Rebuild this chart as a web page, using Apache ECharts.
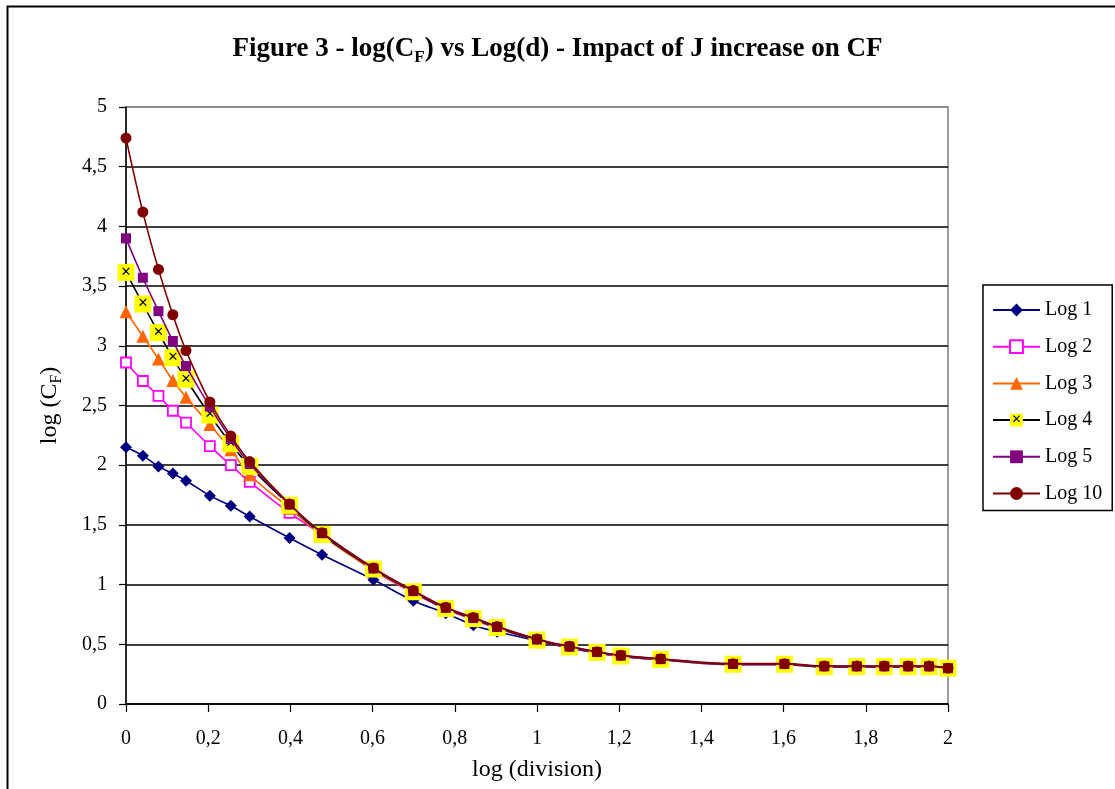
<!DOCTYPE html>
<html>
<head>
<meta charset="utf-8">
<script src="https://cdn.jsdelivr.net/npm/echarts@6/dist/echarts.min.js"></script>
<style>html,body{margin:0;padding:0;background:#fff;}#c{width:1115px;height:789px;}</style>
</head>
<body>
<div id="c"></div>
<script>
// log(division) values
var xVals = [0, 0.041, 0.079, 0.114, 0.146, 0.204, 0.255, 0.301, 0.398, 0.477, 0.602, 0.699, 0.778, 0.845, 0.903, 1, 1.079, 1.146, 1.204, 1.301, 1.477, 1.602, 1.699, 1.778, 1.845, 1.903, 1.954, 2];
var log1 = [2.15, 2.08, 1.99, 1.93, 1.87, 1.745, 1.66, 1.57, 1.39, 1.25, 1.04, 0.865, 0.76, 0.66, 0.605, 0.53, 0.47, 0.428, 0.398, 0.37, 0.33, 0.33, 0.31, 0.31, 0.31, 0.31, 0.31, 0.30];
var log2 = [2.86, 2.705, 2.58, 2.456, 2.356, 2.16, 2.00, 1.86, 1.60, 1.42, 1.12, 0.93, 0.795, 0.705, 0.635, 0.535, 0.475, 0.43, 0.40, 0.372, 0.332, 0.332, 0.312, 0.312, 0.312, 0.312, 0.312, 0.30];
var log3 = [3.285, 3.08, 2.89, 2.71, 2.57, 2.34, 2.13, 1.92, 1.64, 1.41, 1.12, 0.935, 0.795, 0.71, 0.635, 0.535, 0.475, 0.43, 0.40, 0.372, 0.332, 0.332, 0.312, 0.312, 0.312, 0.312, 0.312, 0.30];
var log4 = [3.615, 3.35, 3.11, 2.90, 2.72, 2.42, 2.18, 1.99, 1.665, 1.42, 1.13, 0.94, 0.80, 0.715, 0.64, 0.535, 0.478, 0.432, 0.402, 0.374, 0.333, 0.333, 0.313, 0.313, 0.313, 0.313, 0.313, 0.30];
var log5 = [3.90, 3.57, 3.29, 3.04, 2.83, 2.49, 2.22, 2.01, 1.67, 1.43, 1.135, 0.945, 0.805, 0.72, 0.645, 0.54, 0.48, 0.435, 0.405, 0.376, 0.335, 0.335, 0.315, 0.315, 0.315, 0.315, 0.315, 0.30];
var log10 = [4.74, 4.12, 3.64, 3.26, 2.96, 2.53, 2.245, 2.03, 1.675, 1.435, 1.14, 0.95, 0.81, 0.725, 0.65, 0.545, 0.483, 0.438, 0.408, 0.379, 0.338, 0.338, 0.318, 0.318, 0.318, 0.318, 0.318, 0.30];
var seriesNames = ['Log 1', 'Log 2', 'Log 3', 'Log 4', 'Log 5', 'Log 10'];

var FONT = '"Liberation Serif", "Times New Roman", serif';
function pairs(ys) { return xVals.map(function (x, i) { return [x, ys[i]]; }); }
function comma(v) { return String(v).replace('.', ','); }

var styles = [
  { data: log1, color: '#000080', symbol: 'diamond', size: 12, fill: '#000080' },
  { data: log2, color: '#FF00FF', symbol: 'rect', size: 10, fill: '#FFFFFF', border: '#FF00FF' },
  { data: log3, color: '#FF6600', symbol: 'triangle', size: 13, fill: '#FF6600' },
  { data: log4, color: '#000000', symbol: 'rect', size: 17, fill: '#FFFF00', xlabel: true },
  { data: log5, color: '#800080', symbol: 'rect', size: 10, fill: '#800080' },
  { data: log10, color: '#800000', symbol: 'circle', size: 11, fill: '#800000' }
];

var series = styles.map(function (s, i) {
  var o = {
    name: seriesNames[i],
    type: 'line',
    data: pairs(s.data),
    smooth: 0.4,
    symbol: s.symbol,
    symbolSize: s.size,
    lineStyle: { color: s.color, width: 1.6 },
    itemStyle: { color: s.fill, borderColor: s.border || s.fill, borderWidth: s.border ? 1.8 : 0 },
    emphasis: { disabled: true },
    z: 2 + i
  };
  if (s.xlabel) {
    o.label = { show: true, position: 'inside', formatter: '\u2715', color: '#000', fontSize: 13, fontWeight: 'bold', fontFamily: 'DejaVu Sans' };
  }
  return o;
});

var frame = {
  type: 'rect', left: 5, top: 4, z: -10,
  shape: { width: 1200, height: 900 },
  style: { fill: 'none', stroke: '#000', lineWidth: 2 }
};

var chart = echarts.init(document.getElementById('c'));
chart.setOption({
  animation: false,
  backgroundColor: '#ffffff',
  graphic: [frame],
  title: {
    left: 'center', top: 32, padding: 0,
    text: '{b|Figure 3 - log(C}{s|F}{b|) vs Log(d) - Impact of J increase on CF}',
    textStyle: {
      rich: {
        b: { fontFamily: FONT, fontWeight: 'bold', fontSize: 27, color: '#000', lineHeight: 34 },
        s: { fontFamily: FONT, fontWeight: 'bold', fontSize: 17, color: '#000', lineHeight: 18, verticalAlign: 'bottom' }
      }
    }
  },
  legend: {
    orient: 'vertical', left: 983, top: 285,
    padding: [15, 10, 7, 9],
    itemWidth: 47, itemHeight: 16, itemGap: 16.7,
    borderColor: '#000', borderWidth: 1.5,
    textStyle: { fontFamily: FONT, fontSize: 20, lineHeight: 20, color: '#000' },
    data: seriesNames
  },
  grid: { left: 126, right: 167, top: 107, bottom: 85, show: true, borderColor: '#808080', borderWidth: 1.5 },
  xAxis: {
    type: 'value', min: 0, max: 2, interval: 0.2,
    name: 'log (division)', nameLocation: 'middle', nameGap: 54,
    nameTextStyle: { fontFamily: FONT, fontSize: 24, color: '#000' },
    axisLine: { show: true, lineStyle: { color: '#000', width: 1.5 } },
    axisTick: { show: true, length: 8, lineStyle: { color: '#000', width: 1.2 } },
    axisLabel: { margin: 25, fontFamily: FONT, fontSize: 20, color: '#000', formatter: comma },
    splitLine: { show: false }
  },
  yAxis: {
    type: 'value', min: 0, max: 5, interval: 0.5,
    name: '{n|log (C}{s|F}{n|)}', nameLocation: 'middle', nameGap: 61,
    nameTextStyle: {
      rich: {
        n: { fontFamily: FONT, fontSize: 24, color: '#000', lineHeight: 30 },
        s: { fontFamily: FONT, fontSize: 16, color: '#000', lineHeight: 17, verticalAlign: 'bottom' }
      }
    },
    axisLine: { show: true, lineStyle: { color: '#000', width: 1.5 } },
    axisTick: { show: true, length: 7, lineStyle: { color: '#000', width: 1.2 } },
    axisLabel: { margin: 19, fontFamily: FONT, fontSize: 20, color: '#000', formatter: comma },
    splitLine: { show: true, lineStyle: { color: ['#000', '#000', '#000', '#000', '#000', '#000', '#000', '#000', '#000', '#000', '#888'], width: 1.5 } }
  },
  series: series
});

// black cross on the Log 4 legend icon, placed at the icon the legend itself drew
(function () {
  var found = null;
  chart.getZr().storage.getDisplayList(true).forEach(function (el) {
    if (found) return;
    if (el.style && el.style.fill && String(el.style.fill).toUpperCase() === '#FFFF00') {
      var r = el.getBoundingRect();
      var m = el.getComputedTransform ? el.getComputedTransform() : null;
      var cx = r.x + r.width / 2, cy = r.y + r.height / 2;
      if (m) { var x = m[0] * cx + m[2] * cy + m[4]; var y = m[1] * cx + m[3] * cy + m[5]; cx = x; cy = y; }
      if (cx > 960) found = [cx, cy];
    }
  });
  if (found) {
    chart.setOption({
      graphic: [frame, {
        type: 'text', x: found[0], y: found[1], z: 100,
        style: { text: '\u2715', fill: '#000', font: 'bold 12px "DejaVu Sans"', align: 'center', verticalAlign: 'middle' }
      }]
    });
  }
})();
</script>
</body>
</html>
